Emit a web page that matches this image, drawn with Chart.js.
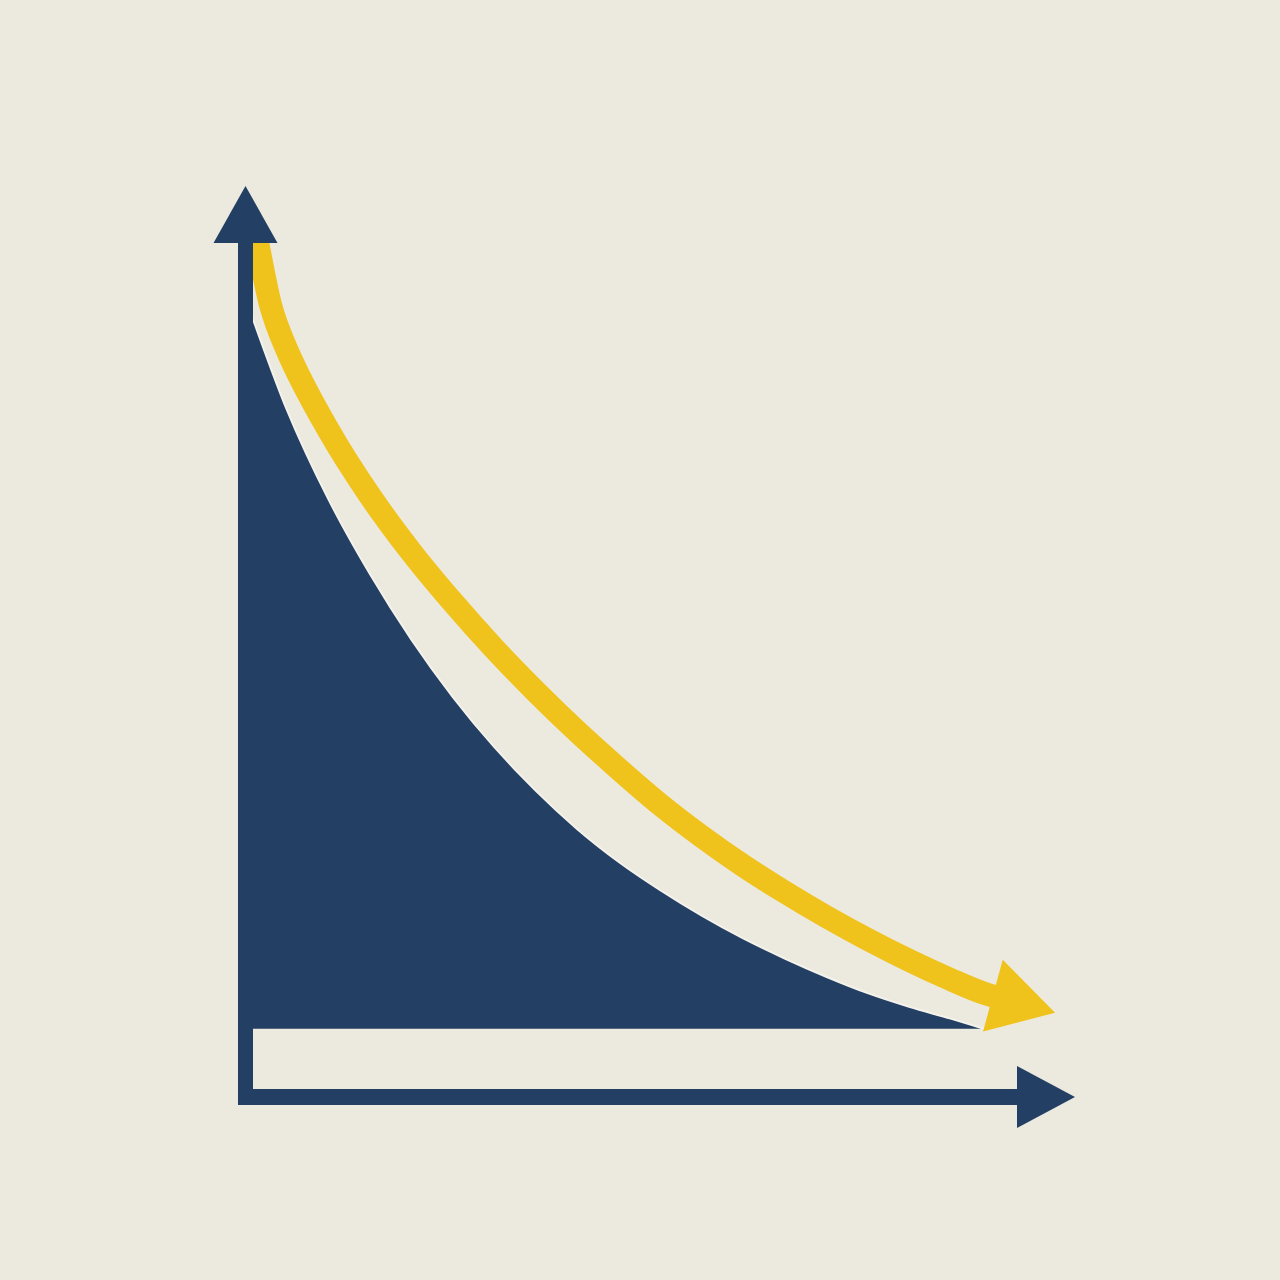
<!DOCTYPE html>
<html>

<head>
    <meta charset='utf-8'>
    <title>decay curve</title>
    <script src="https://cdn.jsdelivr.net/npm/chart.js@4.4.1/dist/chart.umd.min.js"></script>
    <style>
        body { margin: 0; background: #ECEADF; }
        canvas { display: block; }
    </style>
</head>

<body>
    <canvas id="myChart" width="1280" height="1280"></canvas>
    <script>
        // values (x: 0..100 along the axis, y: 0..100 up the axis)
        const areaX = [0, 5, 10, 15, 20, 25, 30, 35, 40, 45, 50, 55, 60, 65, 70, 75, 80, 85, 89];
        const areaY = [87.6, 75.4, 65.6, 57.4, 50.2, 43.9, 38.4, 33.6, 29.4, 25.8, 22.7, 19.9, 17.4, 15.2, 13.2, 11.4, 9.9, 8.6, 7.5];
        const areaBase = 7.5;

        const trendX = [1.2, 3, 5, 10, 15, 20, 25, 30, 35, 40, 45, 50, 55, 60, 65, 70, 75, 80, 85, 89, 92.6];
        const trendY = [95.0, 87.0, 82.0, 73.2, 66.0, 59.8, 54.3, 49.2, 44.5, 40.1, 36.0, 32.1, 28.6, 25.4, 22.5, 19.8, 17.3, 15.0, 12.9, 11.4, 10.5];

        const NAVY = '#233F63';
        const GOLD = '#F0C21C';

        // axis lines with arrowheads, drawn on top of the datasets
        const axisArrows = {
            id: 'axisArrows',
            afterDatasetsDraw(chart) {
                const { ctx, chartArea: a } = chart;
                const w = 15;
                ctx.save();
                ctx.fillStyle = NAVY;
                // y axis
                ctx.fillRect(a.left - w / 2, a.top + 57, w, a.bottom - a.top - 57 + 8);
                ctx.beginPath();
                ctx.moveTo(a.left, a.top);
                ctx.lineTo(a.left - 32, a.top + 57);
                ctx.lineTo(a.left + 32, a.top + 57);
                ctx.closePath();
                ctx.fill();
                // x axis
                ctx.fillRect(a.left - w / 2, a.bottom - 8, a.right - 57 - (a.left - w / 2), 16);
                ctx.beginPath();
                ctx.moveTo(a.right, a.bottom);
                ctx.lineTo(a.right - 58, a.bottom - 31);
                ctx.lineTo(a.right - 58, a.bottom + 31);
                ctx.closePath();
                ctx.fill();
                ctx.restore();
            }
        };

        const last = trendX.length - 1;
        function headRotation(c) {
            const sx = c.chart.scales.x, sy = c.chart.scales.y;
            const dx = sx.getPixelForValue(trendX[last]) - sx.getPixelForValue(trendX[last - 1]);
            const dy = sy.getPixelForValue(trendY[last]) - sy.getPixelForValue(trendY[last - 1]);
            return Math.atan2(dx, -dy) * 180 / Math.PI;
        }

        const ctx = document.getElementById('myChart').getContext('2d');
        const myChart = new Chart(ctx, {
            type: 'line',
            data: {
                datasets: [{
                        label: 'trend',
                        data: trendX.map((x, i) => ({ x, y: trendY[i] })),
                        borderColor: GOLD,
                        borderWidth: 23,
                        borderCapStyle: 'butt',
                        cubicInterpolationMode: 'monotone',
                        fill: false,
                        clip: false,
                        pointStyle: 'triangle',
                        pointRadius: c => c.dataIndex === last ? 43 : 0,
                        pointRotation: headRotation,
                        pointBackgroundColor: GOLD,
                        pointBorderWidth: 0
                    },
                    {
                        label: 'area',
                        data: areaX.map((x, i) => ({ x, y: areaY[i] })),
                        borderColor: '#F4F2EA',
                        borderWidth: 2,
                        backgroundColor: NAVY,
                        cubicInterpolationMode: 'monotone',
                        fill: { value: areaBase },
                        clip: false,
                        pointRadius: 0
                    }
                ]
            },
            options: {
                responsive: false,
                devicePixelRatio: 1,
                animation: false,
                layout: { padding: { left: 245.5, right: 205, top: 186, bottom: 183 } },
                scales: {
                    x: { type: 'linear', min: 0, max: 100, display: false },
                    y: { type: 'linear', min: 0, max: 100, display: false }
                },
                plugins: {
                    legend: { display: false },
                    tooltip: { enabled: false }
                }
            },
            plugins: [axisArrows]
        });
    </script>
</body>

</html>
